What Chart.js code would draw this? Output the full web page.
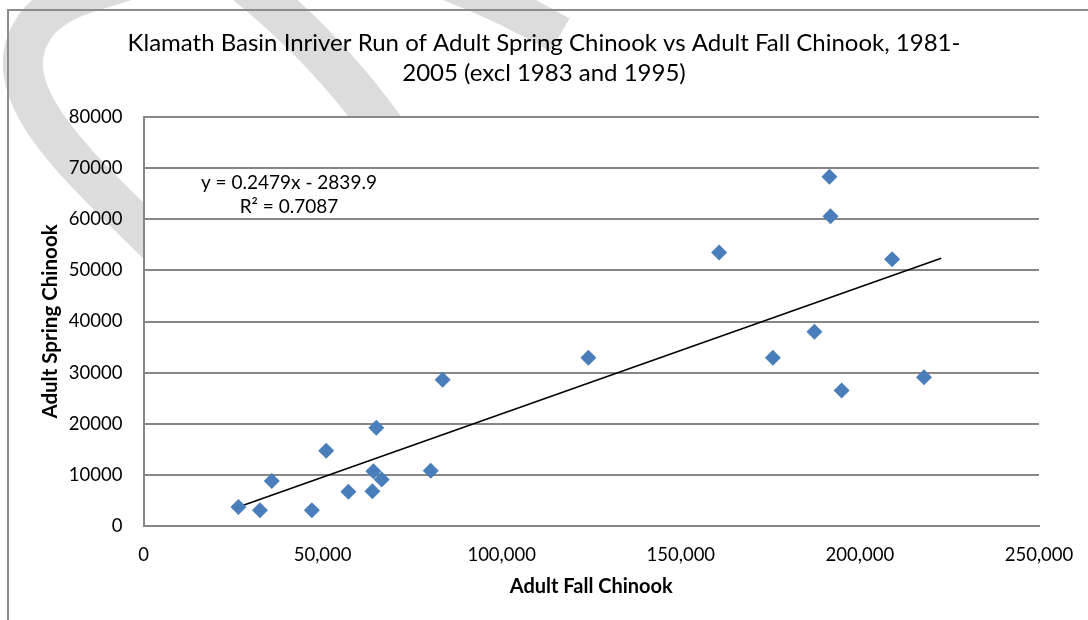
<!DOCTYPE html>
<html>
<head>
<meta charset="utf-8">
<script src="https://cdn.jsdelivr.net/npm/chart.js@4.4.1/dist/chart.umd.min.js"></script>
<style>
  html, body { margin: 0; padding: 0; background: #ffffff; }
  #wrap { width: 1088px; height: 620px; }
</style>
</head>
<body>
<div id="wrap"><canvas id="c" width="1088" height="620"></canvas></div>
<script>
// ---- data ----
const titleLines = ["Klamath Basin Inriver Run of Adult Spring Chinook vs Adult Fall Chinook, 1981-", "2005 (excl 1983 and 1995)"];
const xAxisTitle = "Adult Fall Chinook";
const yAxisTitle = "Adult Spring Chinook";
const fallChinook = [26500, 32500, 35800, 47000, 51000, 57200, 63900, 65000, 64200, 66500, 80200, 83500, 124200, 160700, 191500, 191800, 209000, 187300, 175700, 194900, 217900];
const springChinook = [3700, 3100, 8800, 3100, 14700, 6700, 6800, 19200, 10700, 9100, 10800, 28600, 32900, 53500, 68300, 60600, 52200, 38000, 32900, 26500, 29100];
const trendSlope = 0.2479;
const trendIntercept = -2839.9;
const trendXRange = [26500, 222700];
const trendLabelLines = ["y = 0.2479x - 2839.9", "R\u00b2 = 0.7087"];
const xTicks = [0, 50000, 100000, 150000, 200000, 250000];
const yTicks = [0, 10000, 20000, 30000, 40000, 50000, 60000, 70000, 80000];

// ---- layout / style constants ----
const FONT = "Lato, 'Noto Sans', sans-serif";
const GRID = '#878787';
const LEFT = 143.5, RIGHT_PAD = 49, BOTTOM_H = 94;

const points = fallChinook.map((x, i) => ({ x: x, y: springChinook[i] }));
const trendPts = trendXRange.map(x => ({ x: x, y: trendSlope * x + trendIntercept }));

const bgPlugin = {
  id: 'bg',
  beforeDraw(chart) {
    const ctx = chart.ctx, a = chart.chartArea;
    ctx.save();
    ctx.fillStyle = '#ffffff';
    ctx.fillRect(0, 0, chart.width, chart.height);
    // faint scan bands
    ctx.strokeStyle = '#dcdcdc';
    ctx.lineCap = 'butt';
    ctx.lineWidth = 40;
    ctx.beginPath();
    ctx.moveTo(175, 262);
    ctx.bezierCurveTo(90, 175, -20, 90, 40, 20);
    ctx.bezierCurveTo(70, -10, 110, -10, 140, -25);
    ctx.stroke();
    ctx.lineWidth = 42;
    ctx.beginPath();
    ctx.moveTo(235, -25);
    ctx.quadraticCurveTo(320, 40, 385, 130);
    ctx.stroke();
    ctx.lineWidth = 38;
    ctx.beginPath();
    ctx.moveTo(430, -25);
    ctx.quadraticCurveTo(500, 0, 560, 35);
    ctx.stroke();
    // plot area white
    ctx.fillStyle = '#ffffff';
    ctx.fillRect(a.left, a.top, a.right - a.left, a.bottom - a.top);
    // outer chart border
    ctx.strokeStyle = '#8c8c8c';
    ctx.lineWidth = 2;
    ctx.beginPath();
    ctx.moveTo(8, 620);
    ctx.lineTo(8, 10);
    ctx.lineTo(1088, 10);
    ctx.stroke();
    ctx.restore();
  },
  afterDatasetsDraw(chart) {
    const ctx = chart.ctx, xs = chart.scales.x, ys = chart.scales.y;
    ctx.save();
    ctx.fillStyle = '#000000';
    ctx.font = "19px " + FONT;
    ctx.textAlign = 'center';
    ctx.textBaseline = 'middle';
    const cx = xs.getPixelForValue(40600);
    ctx.fillText(trendLabelLines[0], cx, ys.getPixelForValue(67100));
    ctx.fillText(trendLabelLines[1], cx, ys.getPixelForValue(62400));
    ctx.restore();
  }
};

new Chart(document.getElementById('c'), {
  type: 'scatter',
  data: {
    datasets: [
      {
        label: 'Spring vs Fall',
        data: points,
        pointStyle: 'rectRot',
        pointRadius: 8,
        pointHoverRadius: 8,
        pointBackgroundColor: '#4a7ebb',
        pointBorderColor: '#4a7ebb',
        pointBorderWidth: 0,
        showLine: false,
        order: 1
      },
      {
        label: 'Linear trend',
        data: trendPts,
        showLine: true,
        borderColor: '#000000',
        borderWidth: 1.5,
        pointRadius: 0,
        fill: false,
        order: 2
      }
    ]
  },
  options: {
    responsive: false,
    animation: false,
    events: [],
    layout: { padding: 0 },
    plugins: {
      legend: { display: false },
      tooltip: { enabled: false },
      title: {
        display: true,
        text: titleLines,
        color: '#000000',
        font: { family: FONT, size: 24, weight: 'normal', lineHeight: 30 / 24 },
        padding: { top: 28, bottom: 29 }
      }
    },
    scales: {
      x: {
        type: 'linear',
        min: 0, max: 250000,
        afterBuildTicks(s) { s.ticks = xTicks.map(v => ({ value: v })); },
        afterFit(s) { s.height = BOTTOM_H; s.paddingLeft = 0; s.paddingRight = RIGHT_PAD; },
        grid: { display: false, drawTicks: false },
        border: { display: true, color: GRID, width: 2 },
        ticks: {
          color: '#000000',
          font: { family: FONT, size: 18.5 },
          padding: 18,
          maxRotation: 0,
          callback: v => v === 0 ? '0' : v.toLocaleString('en-US')
        },
        title: {
          display: true, text: xAxisTitle, color: '#000000',
          font: { family: FONT, size: 20, weight: 'bold', lineHeight: 1.2 },
          padding: { top: 0, bottom: 21 }
        }
      },
      y: {
        type: 'linear',
        min: 0, max: 80000,
        afterBuildTicks(s) { s.ticks = yTicks.map(v => ({ value: v })); },
        afterFit(s) { s.width = LEFT; s.paddingTop = 0; s.paddingBottom = 0; },
        grid: { display: true, color: GRID, lineWidth: 2, drawTicks: false },
        border: { display: true, color: GRID, width: 2 },
        ticks: {
          color: '#000000',
          font: { family: FONT, size: 18.5 },
          padding: 21,
          callback: v => String(v)
        },
        title: {
          display: true, text: yAxisTitle, color: '#000000',
          font: { family: FONT, size: 20.5, weight: 'bold', lineHeight: 1.2 },
          padding: { top: 38, bottom: 0 }
        }
      }
    }
  },
  plugins: [bgPlugin]
});
</script>
</body>
</html>
